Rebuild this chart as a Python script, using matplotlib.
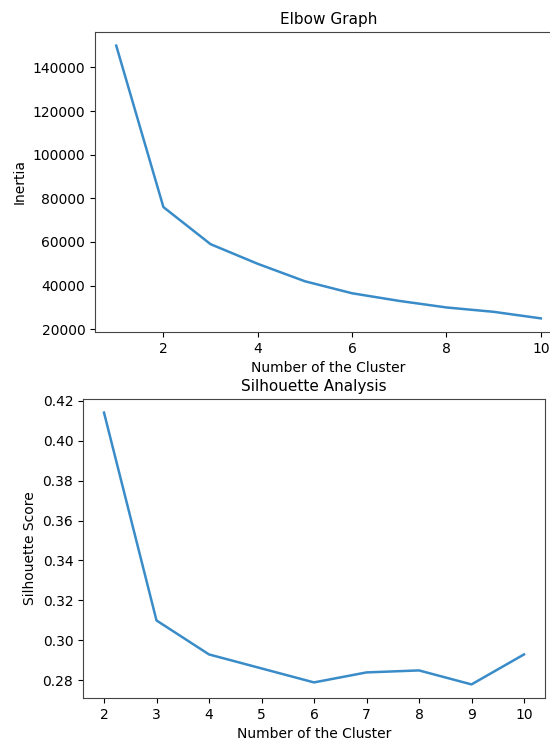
import matplotlib
matplotlib.use("Agg")
import matplotlib.pyplot as plt

# elbow data
k_elbow = [1, 2, 3, 4, 5, 6, 7, 8, 9, 10]
inertia = [150000, 76000, 59000, 50000, 42000, 36500, 33000, 30000, 28000, 25000]

# silhouette data
k_sil = [2, 3, 4, 5, 6, 7, 8, 9, 10]
sil_score = [0.414, 0.310, 0.293, 0.286, 0.279, 0.284, 0.285, 0.278, 0.293]

W, H = 550, 743
fig = plt.figure(figsize=(W / 100, H / 100), dpi=100)

# top axes runs off the right edge, like the cropped screenshot
ax1 = fig.add_axes([95 / W, 1 - 332 / H, 467 / W, 300 / H])
ax1.plot(k_elbow, inertia, color="#3a8cc8", linewidth=1.8)
ax1.set_title("Elbow Graph", fontsize=11)
ax1.set_xlabel("Number of the Cluster", fontsize=10)
ax1.set_ylabel("Inertia", fontsize=10)
ax1.tick_params(labelsize=10)

ax2 = fig.add_axes([83 / W, 1 - 698 / H, 462 / W, 299 / H])
ax2.plot(k_sil, sil_score, color="#3a8cc8", linewidth=1.8)
ax2.set_xticks(k_sil)
ax2.set_title("Silhouette Analysis", fontsize=11)
ax2.set_xlabel("Number of the Cluster", fontsize=10)
ax2.set_ylabel("Silhouette Score", fontsize=10)
ax2.tick_params(labelsize=10)

for ax in (ax1, ax2):
    for s in ax.spines.values():
        s.set_color("#444444")

fig.savefig("out.png", dpi=100)
